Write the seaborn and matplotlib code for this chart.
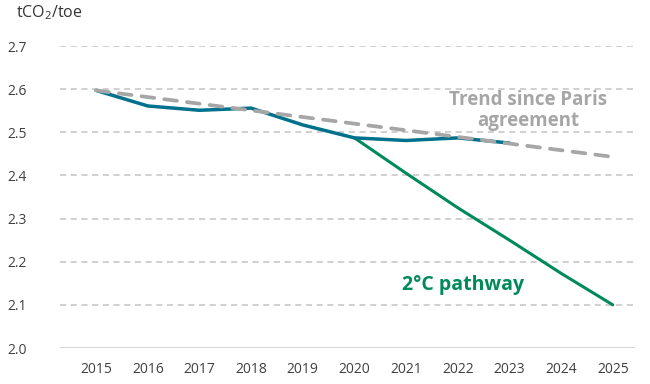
import pandas as pd
import seaborn as sns
import matplotlib.pyplot as plt

# ---------------- Data ----------------
YEARS_HIST = [2015, 2016, 2017, 2018, 2019, 2020, 2021, 2022, 2023]
HIST_VALUES = [2.597, 2.561, 2.551, 2.556, 2.517, 2.487, 2.481, 2.487, 2.475]

YEARS_TREND = [2015, 2025]
TREND_VALUES = [2.597, 2.443]

YEARS_2C = [2020, 2021, 2022, 2023, 2024, 2025]
PATHWAY_VALUES = [2.487, 2.405, 2.325, 2.250, 2.173, 2.100]

Y_TICKS = [2.0, 2.1, 2.2, 2.3, 2.4, 2.5, 2.6, 2.7]
X_TICKS = list(range(2015, 2026))

TEAL = "#00718c"
GREEN = "#008a5a"
GREY = "#a6a6a6"

# ---------------- Style ----------------
sns.set_style("white")
plt.rcParams['font.family'] = ['Open Sans', 'DejaVu Sans']
plt.rcParams['mathtext.fontset'] = 'custom'
plt.rcParams['mathtext.rm'] = 'Open Sans'
plt.rcParams['mathtext.it'] = 'Open Sans'

fig = plt.figure(figsize=(6.5, 3.84), dpi=100)
ax = fig.add_axes([60 / 650, 1 - 348 / 384, 575 / 650, 302 / 384])

hist = pd.DataFrame({"year": YEARS_HIST, "value": HIST_VALUES})
trend = pd.DataFrame({"year": YEARS_TREND, "value": TREND_VALUES})
path = pd.DataFrame({"year": YEARS_2C, "value": PATHWAY_VALUES})

# gridlines
for y in Y_TICKS[1:]:
    ax.axhline(y, color="#c3c3c3", lw=1.1, ls=(0, (4, 3)), zorder=0)
ax.axhline(2.0, color="#d0d0d0", lw=1.3, zorder=0)

sns.lineplot(data=path, x="year", y="value", color=GREEN, lw=2.2, ax=ax,
             solid_capstyle="round", clip_on=False)
sns.lineplot(data=hist, x="year", y="value", color=TEAL, lw=2.5, ax=ax,
             solid_capstyle="round", clip_on=False)
sns.lineplot(data=trend, x="year", y="value", color=GREY, lw=2.7, ax=ax,
             dashes=False, clip_on=False)
ax.lines[-1].set_dashes((3.4, 2.7))
ax.lines[-1].set_dash_capstyle("round")

ax.set_xlim(2014.30, 2025.43)
ax.set_ylim(2.0, 2.7)
ax.set_xticks(X_TICKS)
ax.set_yticks(Y_TICKS)
ax.set_yticklabels([f"{v:.1f}" for v in Y_TICKS])
ax.tick_params(axis="both", length=0, labelsize=10, labelcolor="#404040")
ax.tick_params(axis="y", pad=24)
ax.tick_params(axis="x", pad=10)
ax.set_xlabel("")
ax.set_ylabel("")
for s in ax.spines.values():
    s.set_visible(False)

fig.text(16 / 650, 1 - 13 / 384, r"tCO$_\mathrm{2}$/toe", fontsize=11.5,
         color="#333333", va="center", ha="left")

ax.text(2023.36, 2.551, "Trend since Paris\nagreement", ha="center", va="center",
        fontsize=13.5, fontweight="bold", color=GREY, linespacing=1.05)
ax.text(2022.1, 2.147, "2°C pathway", ha="center", va="center",
        fontsize=14, fontweight="bold", color=GREEN)

fig.savefig("out.png", dpi=100)
